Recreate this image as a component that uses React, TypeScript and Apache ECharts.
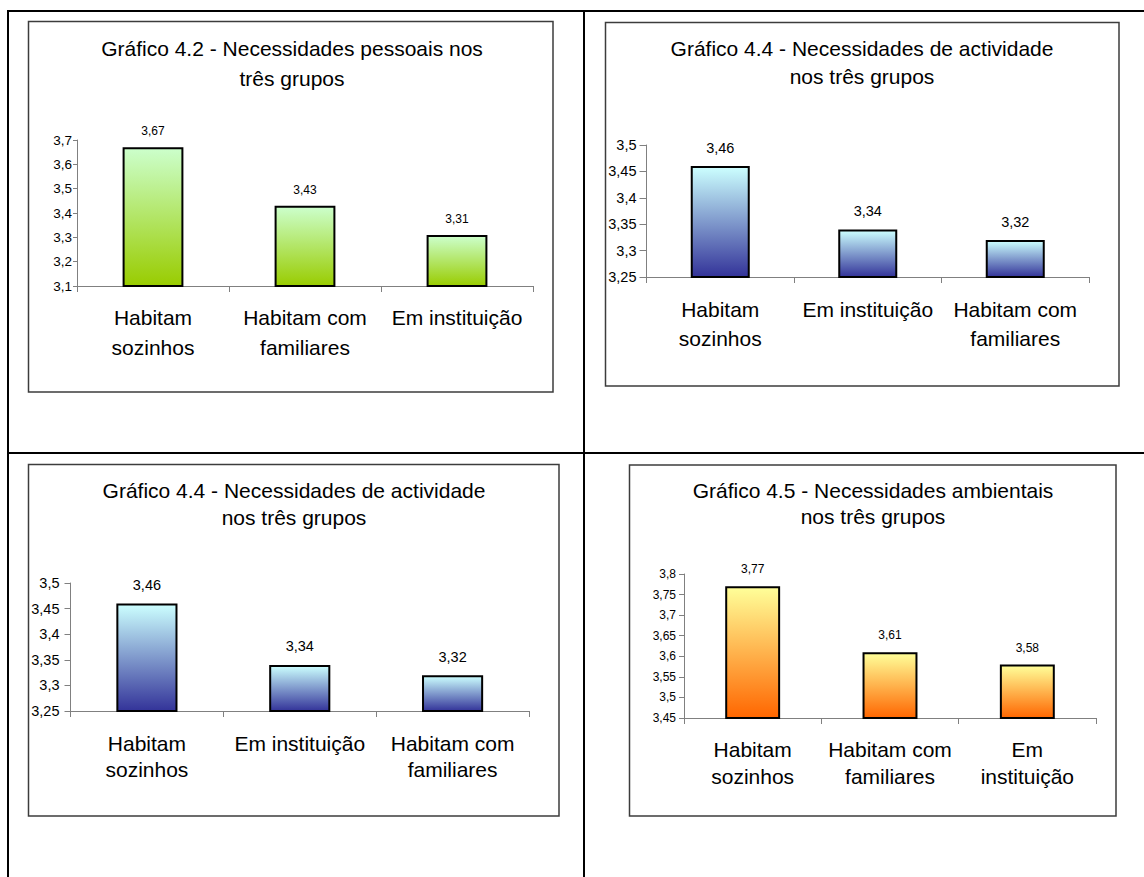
import React, { useEffect, useRef } from "react";
import * as echarts from "echarts";

// ---------- data ----------
const chart1Title = "Gráfico 4.2 - Necessidades pessoais nos\ntrês grupos";
const chart1Categories = ["Habitam\nsozinhos", "Habitam com\nfamiliares", "Em instituição"];
const chart1Values = [3.67, 3.43, 3.31];
const chart1Ticks = [3.1, 3.2, 3.3, 3.4, 3.5, 3.6, 3.7];

const chart2Title = "Gráfico 4.4 - Necessidades de actividade\nnos três grupos";
const chart2Categories = ["Habitam\nsozinhos", "Em instituição", "Habitam com\nfamiliares"];
const chart2Values = [3.46, 3.34, 3.32];
const chart2Ticks = [3.25, 3.3, 3.35, 3.4, 3.45, 3.5];

const chart3Title = "Gráfico 4.4 - Necessidades de actividade\nnos três grupos";
const chart3Categories = ["Habitam\nsozinhos", "Em instituição", "Habitam com\nfamiliares"];
const chart3Values = [3.46, 3.34, 3.32];
const chart3Ticks = [3.25, 3.3, 3.35, 3.4, 3.45, 3.5];

const chart4Title = "Gráfico 4.5 - Necessidades ambientais\nnos três grupos";
const chart4Categories = ["Habitam\nsozinhos", "Habitam com\nfamiliares", "Em\ninstituição"];
const chart4Values = [3.77, 3.61, 3.58];
const chart4Ticks = [3.45, 3.5, 3.55, 3.6, 3.65, 3.7, 3.75, 3.8];

// ---------- layout / style ----------
const FONT = "'Liberation Sans', Arial, Helvetica, sans-serif";
const AXIS_COLOR = "#808080";

const charts = [
  {
    title: chart1Title, categories: chart1Categories, values: chart1Values, ticks: chart1Ticks,
    box: [28.5, 21.5, 553, 392], titleX: 292, titleTop: 33, titleLH: 30,
    grid: { left: 77, top: 140, width: 456, height: 146 },
    catLH: 30, catMargin: 16, yFont: 13.5, dataFont: 12, yMargin: 5, tickLen: 4, xTickLen: 6, labelDist: 10,
    colors: ["#CCFFCC", "#99CC00"],
  },
  {
    title: chart2Title, categories: chart2Categories, values: chart2Values, ticks: chart2Ticks,
    box: [605.5, 22.5, 1119, 386], titleX: 862, titleTop: 34, titleLH: 28,
    grid: { left: 646.5, top: 145, width: 442.5, height: 132 },
    catLH: 29, catMargin: 17.5, yFont: 14.5, dataFont: 14.5, yMargin: 10, tickLen: 7, xTickLen: 6, labelDist: 11,
    colors: ["#CCFFFF", "#333399"],
  },
  {
    title: chart3Title, categories: chart3Categories, values: chart3Values, ticks: chart3Ticks,
    box: [28.5, 464.5, 559, 816], titleX: 294, titleTop: 476.5, titleLH: 27,
    grid: { left: 70.5, top: 583, width: 458.5, height: 128 },
    catLH: 26, catMargin: 19, yFont: 14.5, dataFont: 14.5, yMargin: 11, tickLen: 6, xTickLen: 6, labelDist: 11,
    colors: ["#CCFFFF", "#333399"],
  },
  {
    title: chart4Title, categories: chart4Categories, values: chart4Values, ticks: chart4Ticks,
    box: [629.5, 465, 1116, 816], titleX: 873, titleTop: 477, titleLH: 26,
    grid: { left: 684, top: 574, width: 412, height: 144 },
    catLH: 27, catMargin: 17.5, yFont: 12, dataFont: 12, yMargin: 8, tickLen: 5, xTickLen: 6, labelDist: 11,
    colors: ["#FFFF99", "#FF6600"],
  },
];

const fmt = (v: number) => String(Math.round(v * 100) / 100).replace(".", ",");

export default function App() {
  const ref = useRef<HTMLDivElement>(null);

  useEffect(() => {
    document.body.style.margin = "0";
    if (!ref.current) return;
    const chart = echarts.init(ref.current, undefined, { renderer: "svg" });

    const graphic: any[] = [
      // table lines
      { type: "line", silent: true, shape: { x1: 7, y1: 11, x2: 1144, y2: 11 }, style: { stroke: "#000", lineWidth: 2 } },
      { type: "line", silent: true, shape: { x1: 8, y1: 10, x2: 8, y2: 877 }, style: { stroke: "#000", lineWidth: 2 } },
      { type: "line", silent: true, shape: { x1: 584, y1: 10, x2: 584, y2: 877 }, style: { stroke: "#000", lineWidth: 2 } },
      { type: "line", silent: true, shape: { x1: 7, y1: 453, x2: 1144, y2: 453 }, style: { stroke: "#000", lineWidth: 2 } },
    ];

    charts.forEach((c) => {
      const [x1, y1, x2, y2] = c.box;
      graphic.push({
        type: "rect", silent: true,
        shape: { x: x1, y: y1, width: x2 - x1, height: y2 - y1 },
        style: { fill: "none", stroke: "#3c3c3c", lineWidth: 1.5 },
      });
      graphic.push({
        type: "text", silent: true, x: c.titleX, y: c.titleTop,
        style: {
          text: c.title, align: "center", textAlign: "center", verticalAlign: "top",
          fontSize: 21, fontFamily: FONT, lineHeight: c.titleLH, fill: "#000",
        },
      });
    });

    const option: any = {
      animation: false,
      backgroundColor: "#fff",
      graphic,
      grid: charts.map((c) => ({ ...c.grid, containLabel: false })),
      xAxis: charts.map((c, i) => ({
        type: "category", gridIndex: i, data: c.categories,
        axisLine: { show: true, lineStyle: { color: AXIS_COLOR, width: 1 } },
        axisTick: { show: true, length: c.xTickLen, lineStyle: { color: AXIS_COLOR } },
        axisLabel: {
          interval: 0, fontSize: 21, lineHeight: c.catLH, color: "#000",
          fontFamily: FONT, margin: c.catMargin,
        },
        splitLine: { show: false },
      })),
      yAxis: charts.map((c, i) => ({
        type: "value", gridIndex: i,
        min: c.ticks[0], max: c.ticks[c.ticks.length - 1],
        interval: Math.round((c.ticks[1] - c.ticks[0]) * 100) / 100,
        axisLine: { show: true, lineStyle: { color: AXIS_COLOR, width: 1 } },
        axisTick: { show: true, length: c.tickLen, lineStyle: { color: AXIS_COLOR } },
        axisLabel: { fontSize: c.yFont, color: "#000", fontFamily: FONT, margin: c.yMargin, formatter: fmt },
        splitLine: { show: false },
      })),
      series: charts.map((c, i) => ({
        type: "bar", xAxisIndex: i, yAxisIndex: i, data: c.values,
        barWidth: "40%",
        itemStyle: {
          color: new echarts.graphic.LinearGradient(0, 0, 0, 1, [
            { offset: 0, color: c.colors[0] },
            { offset: 1, color: c.colors[1] },
          ]),
          borderColor: "#000", borderWidth: 2,
        },
        label: {
          show: true, position: "top", distance: c.labelDist,
          fontSize: c.dataFont, color: "#000", fontFamily: FONT,
          formatter: (p: any) => fmt(p.value),
        },
      })),
    };

    chart.setOption(option);
    return () => chart.dispose();
  }, []);

  return <div ref={ref} style={{ width: 1144, height: 877 }} />;
}
